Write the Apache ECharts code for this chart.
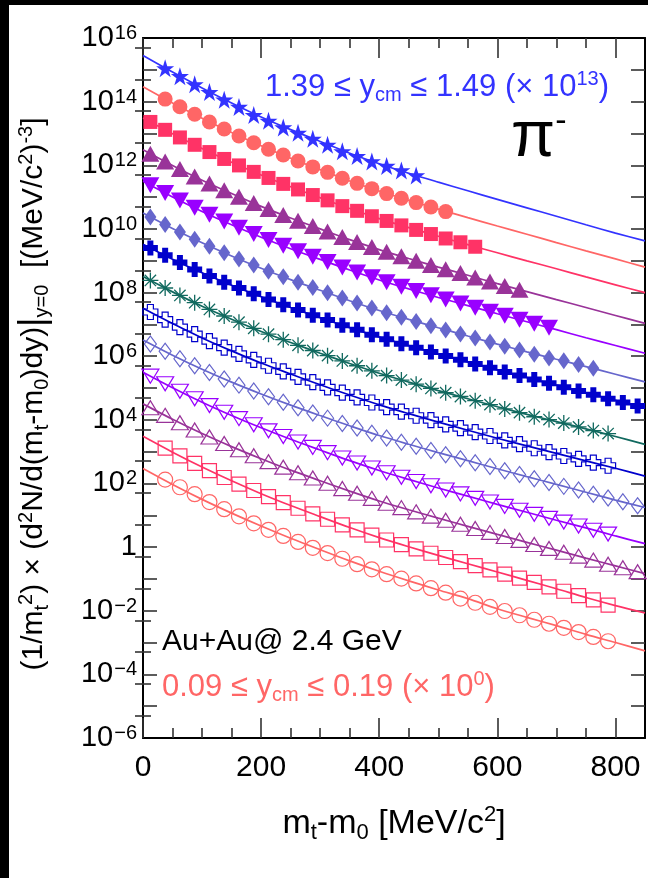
<!DOCTYPE html>
<html>
<head>
<meta charset="utf-8">
<script src="https://cdn.jsdelivr.net/npm/echarts@6/dist/echarts.min.js"></script>
<style>
  html, body { margin: 0; padding: 0; width: 648px; height: 878px; background: #000; overflow: hidden; }
  #chart { position: absolute; left: 9px; top: 5px; width: 639px; height: 873px; background: #fff; }
</style>
</head>
<body>
<div id="chart"></div>
<script>
// pi- transverse-mass spectra, Au+Au at 2.4 GeV, 14 rapidity bins (width 0.1)
const binLow = [1.39, 1.29, 1.19, 1.09, 0.99, 0.89, 0.79, 0.69, 0.59, 0.49, 0.39, 0.29, 0.19, 0.09];
const scaleExp = [13, 12, 11, 10, 9, 8, 7, 6, 5, 4, 3, 2, 1, 0];

// m_t - m_0 bin centres (MeV/c^2) and the fit evaluation grid
const binCentres = [12.5, 37.5, 62.5, 87.5, 112.5, 137.5, 162.5, 187.5, 212.5, 237.5, 262.5, 287.5,
  312.5, 337.5, 362.5, 387.5, 412.5, 437.5, 462.5, 487.5, 512.5, 537.5, 562.5, 587.5, 612.5, 637.5,
  662.5, 687.5, 712.5, 737.5, 762.5, 787.5, 812.5, 837.5];
const fitX = [0, 50, 100, 150, 200, 250, 300, 350, 400, 450, 500, 550, 600, 650, 700, 750, 800, 850];
// index of the first measured bin per rapidity slice
const firstBin = [1, 1, 0, 0, 0, 0, 0, 0, 0, 0, 0, 0, 1, 1];

// measured yields (unscaled)
const pts01 = [112, 63, 35, 20, 11.5, 6.8, 3.8, 2.5, 1.55, 1.05, 0.68, 0.44, 0.275, 0.195, 0.132, 0.095, 0.069, 0.048];
const pts02 = [120, 69, 40, 23, 13.8, 8.3, 5.1, 3.2, 2.1, 1.36, 0.89, 0.60, 0.39, 0.27, 0.184, 0.129, 0.092, 0.067, 0.049, 0.035];
const pts03 = [230, 130, 75, 44, 26, 15.8, 9.9, 6.2, 4.0, 2.6, 1.74, 1.16, 0.79, 0.52, 0.37, 0.25, 0.178, 0.129, 0.093, 0.069, 0.050, 0.038, 0.0275];
const pts04 = [231, 132, 76, 44.6, 26.7, 16.3, 10.2, 6.5, 4.2, 2.75, 1.82, 1.23, 0.83, 0.56, 0.39, 0.27, 0.19, 0.138, 0.100, 0.074, 0.054, 0.041, 0.0295, 0.0224, 0.0162, 0.0123];
const pts05 = [234, 135, 78, 46, 27.7, 17.1, 10.8, 6.9, 4.5, 2.96, 1.97, 1.33, 0.91, 0.61, 0.43, 0.30, 0.21, 0.152, 0.112, 0.082, 0.060, 0.045, 0.033, 0.025, 0.0185, 0.014, 0.0104, 0.0078];
const pts06 = [238, 137, 80, 47, 28.6, 17.8, 11.3, 7.3, 4.7, 3.16, 2.11, 1.43, 0.98, 0.67, 0.47, 0.325, 0.23, 0.167, 0.123, 0.091, 0.067, 0.050, 0.037, 0.028, 0.0205, 0.0156, 0.0116, 0.0087, 0.0072, 0.0055, 0.0042];
const pts07 = [251, 148, 88, 53, 33, 21.1, 13.8, 9.1, 6.1, 4.17, 2.82, 1.95, 1.36, 0.94, 0.68, 0.47, 0.34, 0.248, 0.184, 0.136, 0.101, 0.077, 0.057, 0.043, 0.032, 0.0245, 0.0184, 0.014, 0.0106, 0.0081, 0.0061, 0.0046, 0.0035, 0.0027];
const pts08 = [240, 139, 81, 48, 29.4, 18.3, 11.7, 7.5, 4.9, 3.3, 2.2, 1.51, 1.04, 0.71, 0.50, 0.346, 0.245, 0.178, 0.132, 0.097, 0.071, 0.054, 0.040, 0.030, 0.022, 0.0168, 0.0125, 0.0102, 0.0079, 0.0060, 0.0046, 0.0037];
const pts09 = [245, 140, 82, 49, 29.8, 18.5, 11.8, 7.6, 5.0, 3.35, 2.25, 1.53, 1.05, 0.72, 0.51, 0.35, 0.25, 0.18, 0.134, 0.098, 0.072, 0.055, 0.041, 0.031, 0.0226, 0.0172, 0.0128, 0.0097, 0.0073, 0.0059, 0.0045, 0.0036];
const pts10 = [243, 142, 83, 50, 30.5, 19.2, 12.3, 8.0, 5.3, 3.56, 2.39, 1.64, 1.13, 0.77, 0.55, 0.38, 0.27, 0.198, 0.147, 0.108, 0.080, 0.060, 0.045, 0.034, 0.025, 0.019, 0.0141, 0.0107, 0.0081, 0.0062, 0.0046, 0.0035, 0.00265, 0.0020];
const pts11 = [236, 136, 79, 46, 28, 17.3, 10.9, 7.0, 4.5, 3.0, 2.0, 1.36, 0.93, 0.63, 0.44, 0.305, 0.216, 0.156, 0.115, 0.085, 0.062, 0.047, 0.034, 0.026, 0.019, 0.0144, 0.0107, 0.0080, 0.0061, 0.0046, 0.0034, 0.00256];
const pts12 = [239, 138, 81, 48, 29, 18.1, 11.5, 7.4, 4.85, 3.25, 2.17, 1.48, 1.02, 0.69, 0.49, 0.34, 0.24, 0.174, 0.128, 0.094, 0.070, 0.052, 0.0385, 0.029, 0.0214, 0.0163, 0.0121, 0.0091, 0.0069, 0.0052, 0.0039, 0.0029, 0.00224, 0.00169];
const pts13 = [129, 74, 43, 25.4, 15.4, 9.5, 6.0, 3.84, 2.51, 1.66, 1.10, 0.75, 0.50, 0.346, 0.237, 0.167, 0.120, 0.088, 0.064, 0.047, 0.035, 0.026, 0.0193, 0.0141, 0.0106, 0.0078, 0.0056, 0.0041, 0.0030, 0.0022, 0.0015];
const pts14 = [132, 76, 46, 26, 15.5, 9.3, 5.6, 3.5, 2.24, 1.45, 0.95, 0.65, 0.43, 0.29, 0.20, 0.141, 0.102, 0.072, 0.051, 0.037, 0.024, 0.0178, 0.0132, 0.0098, 0.0072, 0.0052, 0.0039, 0.0029, 0.00214, 0.0015, 0.0011];

// fit functions evaluated on fitX (unscaled)
const fit01 = [282, 85, 27, 9.1, 3.3, 1.32, 0.56, 0.24, 0.112, 0.056, 0.0295, 0.0158, 0.0085, 0.0046, 0.0025, 0.00135, 0.00074, 0.00042];
const fit02 = [295, 91, 30, 10.7, 4.1, 1.66, 0.73, 0.32, 0.155, 0.079, 0.042, 0.0226, 0.0123, 0.0068, 0.0037, 0.00204, 0.00114, 0.00063];
const fit03 = [305, 98, 33.5, 12.4, 4.95, 2.11, 0.95, 0.436, 0.211, 0.110, 0.059, 0.032, 0.0178, 0.0099, 0.0056, 0.0031, 0.00174, 0.00099];
const fit04 = [309, 99, 34, 12.9, 5.1, 2.2, 1.0, 0.46, 0.224, 0.117, 0.063, 0.035, 0.019, 0.0107, 0.0060, 0.0034, 0.0019, 0.00107];
const fit05 = [312, 101, 35.5, 13.5, 5.5, 2.39, 1.10, 0.51, 0.249, 0.130, 0.070, 0.039, 0.0215, 0.0121, 0.0068, 0.0038, 0.00217, 0.00124];
const fit06 = [316, 103, 36.6, 14.1, 5.8, 2.55, 1.18, 0.555, 0.272, 0.143, 0.078, 0.043, 0.0239, 0.0137, 0.0080, 0.0047, 0.0027, 0.00155];
const fit07 = [331, 112, 41.7, 17.0, 7.4, 3.39, 1.62, 0.79, 0.40, 0.214, 0.117, 0.066, 0.037, 0.0214, 0.0123, 0.0071, 0.0041, 0.00234];
const fit08 = [318, 105, 37, 14.5, 6.0, 2.7, 1.24, 0.59, 0.29, 0.153, 0.083, 0.046, 0.0257, 0.0148, 0.0088, 0.0052, 0.0030, 0.0017];
const fit09 = [320, 106, 37.5, 14.7, 6.1, 2.75, 1.26, 0.60, 0.295, 0.156, 0.085, 0.047, 0.0263, 0.0151, 0.0088, 0.0051, 0.0030, 0.0017];
const fit10 = [322, 107, 38.7, 15.3, 6.5, 2.9, 1.36, 0.65, 0.32, 0.170, 0.093, 0.052, 0.029, 0.0164, 0.0094, 0.0053, 0.0030, 0.00175];
const fit11 = [313, 102, 35.8, 13.7, 5.6, 2.44, 1.12, 0.52, 0.255, 0.134, 0.072, 0.040, 0.022, 0.0124, 0.0070, 0.0040, 0.00224, 0.00128];
const fit12 = [317, 104, 37, 14.4, 6.0, 2.62, 1.22, 0.575, 0.282, 0.149, 0.081, 0.045, 0.025, 0.0141, 0.0080, 0.0045, 0.00257, 0.00147];
const fit13 = [302, 96, 32.8, 12.1, 4.76, 2.02, 0.906, 0.411, 0.198, 0.1026, 0.055, 0.030, 0.0165, 0.0090, 0.0049, 0.0026, 0.00145, 0.00085];
const fit14 = [295, 93, 31.6, 11.7, 4.6, 1.9, 0.83, 0.37, 0.174, 0.087, 0.045, 0.024, 0.0115, 0.0062, 0.0034, 0.0018, 0.0010, 0.00055];

// axis ticks and labels
const xMajor = [0, 200, 400, 600, 800];
const xMinor = [50, 100, 150, 250, 300, 350, 450, 500, 550, 650, 700, 750];
const yLabels = [1e-6, 1e-4, 1e-2, 1, 1e2, 1e4, 1e6, 1e8, 1e10, 1e12, 1e14, 1e16];
const yMajor = [1e-5, 1e-4, 1e-3, 1e-2, 1e-1, 1, 1e1, 1e2, 1e3, 1e4, 1e5, 1e6, 1e7, 1e8, 1e9, 1e10, 1e11, 1e12, 1e13, 1e14, 1e15];
const yMinor = [5e-6, 5e-5, 5e-4, 5e-3, 5e-2, 5e-1, 5, 5e1, 5e2, 5e3, 5e4, 5e5, 5e6, 5e7, 5e8, 5e9, 5e10, 5e11, 5e12, 5e13, 5e14, 5e15];

const pts = [pts01, pts02, pts03, pts04, pts05, pts06, pts07, pts08, pts09, pts10, pts11, pts12, pts13, pts14];
const fits = [fit01, fit02, fit03, fit04, fit05, fit06, fit07, fit08, fit09, fit10, fit11, fit12, fit13, fit14];

// drawing styles
const FONT = '"Liberation Sans", Arial, Helvetica, sans-serif';
const colors = ['#3333ff', '#ff6666', '#ff3366', '#993399', '#9900ff', '#6666cc', '#0000cc',
  '#11695f', '#0000cc', '#6666cc', '#9900ff', '#993399', '#ff3366', '#ff6666'];
const STAR = 'path://M0,-10L2.25,-3.09L9.51,-3.09L3.63,1.18L5.88,8.09L0,3.82L-5.88,8.09L-3.63,1.18L-9.51,-3.09L-2.25,-3.09Z';
const CROSS = 'path://M-1.2,-3L1.2,-3L1.2,-1.2L3,-1.2L3,1.2L1.2,1.2L1.2,3L-1.2,3L-1.2,1.2L-3,1.2L-3,-1.2L-1.2,-1.2Z';
const ASTER = 'path://M0,-1L0,1M-1,0L1,0M-0.71,-0.71L0.71,0.71M-0.71,0.71L0.71,-0.71';
const markers = [
  { symbol: STAR, size: 18, open: false },
  { symbol: 'circle', size: 15, open: false },
  { symbol: 'rect', size: 14, open: false },
  { symbol: 'triangle', size: [18, 16], open: false },
  { symbol: 'triangle', size: [18, 16], open: false, rotate: 180 },
  { symbol: 'diamond', size: [12, 17], open: false },
  { symbol: CROSS, size: 15, open: false },
  { symbol: ASTER, size: 16, open: true, stroke: 1.3 },
  { symbol: CROSS, size: 15, open: true },
  { symbol: 'diamond', size: [12, 16], open: true },
  { symbol: 'triangle', size: [17, 14], open: true, rotate: 180 },
  { symbol: 'triangle', size: [17, 14], open: true },
  { symbol: 'rect', size: 14, open: true },
  { symbol: 'circle', size: 15, open: true }
];

const series = [];
fits.forEach((fit, i) => {
  const f = Math.pow(10, scaleExp[i]);
  const name = binLow[i].toFixed(2) + ' ≤ y_cm ≤ ' + (binLow[i] + 0.1).toFixed(2);
  series.push({
    type: 'line', name: name + ' fit', xAxisIndex: 0, yAxisIndex: 0,
    data: fitX.map((x, j) => [x, fit[j] * f]),
    showSymbol: false, symbol: 'none', smooth: 0.3, silent: true, z: 2,
    lineStyle: { color: colors[i], width: 1.7 }
  });
  const m = markers[i];
  series.push({
    type: 'scatter', name: name, xAxisIndex: 0, yAxisIndex: 0,
    data: pts[i].map((v, j) => [binCentres[firstBin[i] + j], v * f]),
    symbol: m.symbol, symbolSize: m.size, symbolRotate: m.rotate || 0, z: 3,
    itemStyle: {
      color: m.open ? 'rgba(0,0,0,0)' : colors[i],
      borderColor: colors[i], borderWidth: m.open ? (m.stroke || 1.2) : 0, opacity: 1
    }
  });
});

function scripts(size, color) {
  return {
    sub: { fontFamily: FONT, fontSize: size, lineHeight: 11, verticalAlign: 'bottom', fill: color, color: color },
    sup: { fontFamily: FONT, fontSize: size, lineHeight: 11, verticalAlign: 'top', fill: color, color: color }
  };
}
const tickStyle = { color: '#333', width: 1.6 };
const frame = { show: true, onZero: false, lineStyle: { color: '#000', width: 2 } };
const GRID = { left: 134, top: 33, right: 3, bottom: 140 };

function xAx(grid, pos, values, len, labels) {
  return {
    type: 'value', gridIndex: grid, position: pos, min: 0, max: 850,
    axisLine: grid === 0 ? frame : { show: false },
    axisTick: { show: true, inside: true, length: len, customValues: values, lineStyle: tickStyle },
    axisLabel: labels ? { show: true, customValues: values, fontSize: 30, fontFamily: FONT, color: '#000', margin: 15 } : { show: false },
    splitLine: { show: false }
  };
}
function yAx(grid, pos, values, len, labels) {
  return {
    type: 'log', logBase: 10, gridIndex: grid, position: pos, min: 1e-6, max: 1e16,
    axisLine: grid === 0 ? frame : { show: false },
    axisTick: { show: true, inside: true, length: len, customValues: values, lineStyle: tickStyle },
    axisLabel: labels ? {
      show: true, customValues: yLabels, fontSize: 29, fontFamily: FONT, color: '#000', margin: 6,
      formatter: v => {
        const e = Math.round(Math.log10(v));
        return e === 0 ? '1' : '10{sup|' + (e < 0 ? '\u2212' + (-e) : e) + '}';
      },
      rich: { sup: { fontFamily: FONT, fontSize: 20, lineHeight: 10, verticalAlign: 'top', padding: [0, 0, 0, 1] } }
    } : { show: false },
    splitLine: { show: false }
  };
}

const xMain = xAx(0, 'bottom', xMajor, 20, true);
xMain.name = 'm{sub|t}-m{sub|0} [MeV/c{sup|2}]';
xMain.nameLocation = 'middle';
xMain.nameGap = 66;
xMain.nameTextStyle = { fontFamily: FONT, fontSize: 34, color: '#000', lineHeight: 40, rich: scripts(22, '#000') };

const option = {
  animation: false,
  backgroundColor: '#fff',
  grid: [Object.assign({}, GRID), Object.assign({}, GRID)],
  xAxis: [
    xMain,
    xAx(0, 'top', xMajor, 20, false),
    xAx(1, 'bottom', xMinor, 10, false),
    xAx(1, 'top', xMinor, 10, false)
  ],
  yAxis: [
    yAx(0, 'left', yMajor, 14, true),
    yAx(0, 'right', yMajor, 14, false),
    yAx(1, 'left', yMinor, 8, false),
    yAx(1, 'right', yMinor, 8, false)
  ],
  series: series,
  graphic: [
    {
      // y-axis title
      type: 'text', x: 25, y: 389, rotation: Math.PI / 2, silent: true,
      style: {
        text: '(1/m{sub|t}{sup|2}) × (d{sup|2}N/d(m{sub|t}-m{sub|0})dy){bar||}{sub|y=0}  [(MeV/c{sup|2}){sup|-3}]',
        align: 'center', verticalAlign: 'middle',
        fontFamily: FONT, fontSize: 30, lineHeight: 36, fill: '#000',
        rich: Object.assign({ bar: { fontFamily: FONT, fontSize: 36, lineHeight: 36, fill: '#000' } }, scripts(20, '#000'))
      }
    },
    {
      type: 'text', left: 256, top: 64, silent: true,
      style: {
        text: '1.39 ≤ y{sub|cm} ≤ 1.49 (× 10{sup|13})',
        fontFamily: FONT, fontSize: 31, lineHeight: 36, fill: '#3333ff',
        rich: scripts(20, '#3333ff')
      }
    },
    {
      type: 'text', left: 502, top: 100, silent: true,
      style: {
        text: 'π{sup|-}', fontFamily: FONT, fontSize: 64, lineHeight: 66, fill: '#000',
        rich: { sup: { fontFamily: FONT, fontSize: 34, lineHeight: 30, verticalAlign: 'top', fill: '#000' } }
      }
    },
    {
      type: 'text', left: 153, top: 619, silent: true,
      style: { text: 'Au+Au@ 2.4 GeV', fontFamily: FONT, fontSize: 30, lineHeight: 35, fill: '#000' }
    },
    {
      type: 'text', left: 153, top: 664, silent: true,
      style: {
        text: '0.09 ≤ y{sub|cm} ≤ 0.19 (× 10{sup|0})',
        fontFamily: FONT, fontSize: 31, lineHeight: 36, fill: '#ff6666',
        rich: scripts(20, '#ff6666')
      }
    }
  ]
};

const chart = echarts.init(document.getElementById('chart'), null, { renderer: 'canvas' });
chart.setOption(option);
</script>
</body>
</html>
